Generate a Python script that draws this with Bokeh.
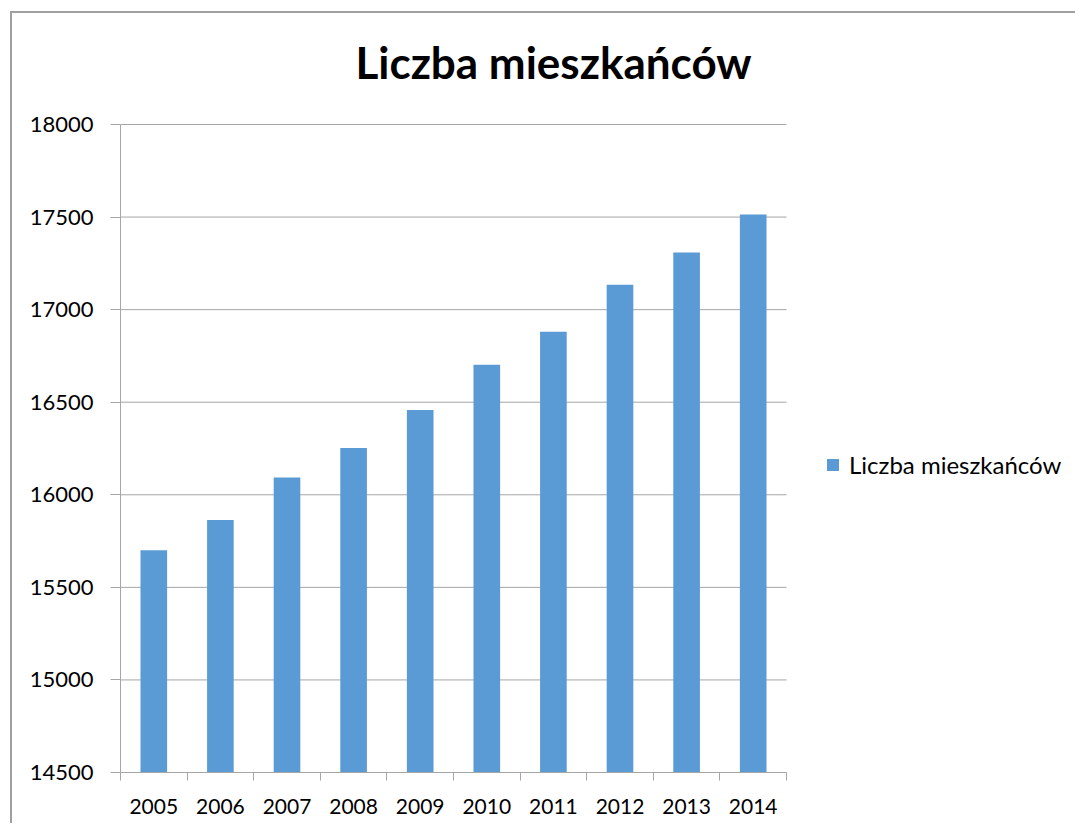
from bokeh.plotting import figure
from bokeh.models import FixedTicker, Range1d, Legend, Label
from bokeh.embed import file_html
from bokeh.resources import INLINE

years = ["2005", "2006", "2007", "2008", "2009", "2010", "2011", "2012", "2013", "2014"]
population = [15700, 15864, 16094, 16253, 16458, 16703, 16881, 17135, 17308, 17514]
y_ticks = [14500, 15000, 15500, 16000, 16500, 17000, 17500, 18000]
title_text = "Liczba mieszkańców"
series_name = "Liczba mieszkańców"

FONT = "Lato"
GRAY = "#a6a6a6"

n = len(years)
xs = list(range(n))

# layout (pixels)
W, H = 1065, 812
LEFT, BOTTOM = 108, 53
PLOT_W, PLOT_H = 666, 648     # size of the bar area
frame_w, frame_h = W - LEFT, H - BOTTOM
x_start = -0.5
x_end = x_start + n * frame_w / PLOT_W          # room on the right for the legend
y_span = y_ticks[-1] - y_ticks[0]
y_end = y_ticks[0] + y_span * frame_h / PLOT_H   # room on top for the title
ux = n / PLOT_W          # data units per px (x)
uy = y_span / PLOT_H     # data units per px (y)

p = figure(width=W, height=H, output_backend="svg", toolbar_location=None,
           x_range=Range1d(x_start, x_end), y_range=Range1d(y_ticks[0], y_end),
           min_border_left=LEFT, min_border_right=0, min_border_top=0, min_border_bottom=BOTTOM)
p.styles = {"border-left": "2px solid #a0a0a0", "border-top": "2px solid #a0a0a0",
            "margin-left": "10px", "margin-top": "11px"}

# horizontal grid lines limited to the bar area
p.segment(x0=x_start, x1=x_start + n, y0=y_ticks, y1=y_ticks,
          line_color=GRAY, line_width=1, level="underlay")

r = p.vbar(x=xs, top=population, bottom=y_ticks[0], width=0.4,
           fill_color="#5b9bd5", line_color="#5b9bd5", line_width=0)

# title (centred over the whole chart)
p.add_layout(Label(x=x_start + 433 * ux, y=y_ticks[-1] + 63 * uy, text=title_text,
                   text_font=FONT, text_font_style="bold", text_font_size="44px",
                   text_align="center", text_baseline="alphabetic", text_color="black"))

# axes
p.outline_line_color = None
p.background_fill_color = "white"
p.border_fill_color = "white"

p.yaxis.ticker = FixedTicker(ticks=y_ticks)
p.yaxis.bounds = (y_ticks[0], y_ticks[-1])
p.yaxis.axis_line_color = GRAY
p.yaxis.major_tick_line_color = GRAY
p.yaxis.major_tick_in = 0
p.yaxis.major_tick_out = 10
p.yaxis.minor_tick_line_color = None
p.yaxis.major_label_text_font = FONT
p.yaxis.major_label_text_font_size = "22px"
p.yaxis.major_label_text_color = "black"
p.yaxis.major_label_standoff = 17

boundaries = [i - 0.5 for i in range(n + 1)]
p.xaxis.ticker = FixedTicker(ticks=xs, minor_ticks=boundaries)
p.xaxis.bounds = (x_start, x_start + n)
p.xaxis.major_label_overrides = {i: y for i, y in zip(xs, years)}
p.xaxis.axis_line_color = GRAY
p.xaxis.major_tick_line_color = None
p.xaxis.major_tick_in = 0
p.xaxis.major_tick_out = 8
p.xaxis.minor_tick_line_color = GRAY
p.xaxis.minor_tick_in = 0
p.xaxis.minor_tick_out = 8
p.xaxis.major_label_text_font = FONT
p.xaxis.major_label_text_font_size = "21px"
p.xaxis.major_label_text_color = "black"
p.xaxis.major_label_standoff = 18

p.xgrid.grid_line_color = None
p.ygrid.grid_line_color = None

legend = Legend(items=[(series_name, [r])], location=(705, 293),
                label_text_font=FONT, label_text_font_size="24px", label_text_color="black",
                glyph_width=15, glyph_height=15, label_standoff=9,
                padding=0, margin=0, border_line_color=None,
                background_fill_alpha=0)
p.add_layout(legend, "center")

open("out.html", "w").write(file_html(p, INLINE))
